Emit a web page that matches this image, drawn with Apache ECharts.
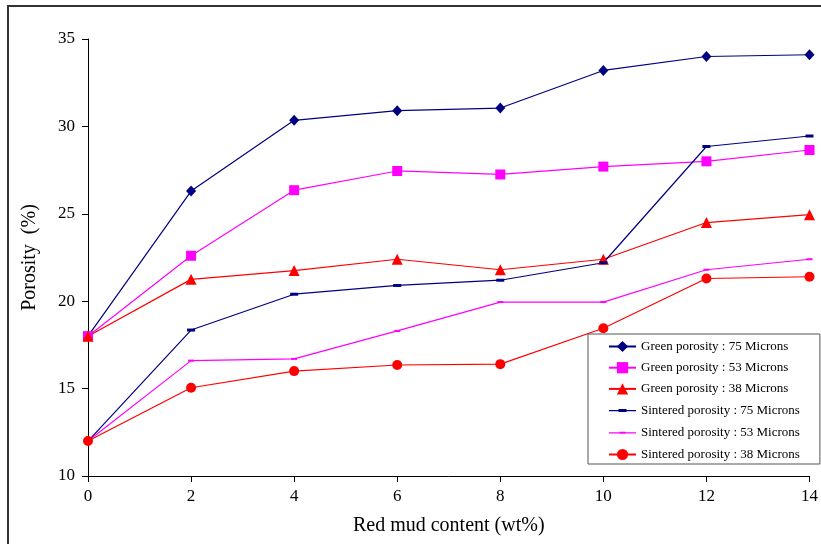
<!DOCTYPE html>
<html><head><meta charset="utf-8">
<script src="https://cdn.jsdelivr.net/npm/echarts@6/dist/echarts.min.js"></script>
<style>html,body{margin:0;padding:0;background:#fff}#c{width:821px;height:544px}</style>
</head><body><div id="c"></div>
<script>
var xValues = [0, 2, 4, 6, 8, 10, 12, 14];
var green75 = [18.0, 26.3, 30.35, 30.9, 31.05, 33.2, 34.0, 34.1];
var green53 = [18.0, 22.6, 26.35, 27.45, 27.25, 27.7, 28.0, 28.65];
var green38 = [18.0, 21.25, 21.75, 22.4, 21.8, 22.4, 24.5, 24.95];
var sint75 = [12.0, 18.35, 20.4, 20.9, 21.2, 22.2, 28.85, 29.45];
var sint53 = [12.0, 16.6, 16.7, 18.3, 19.95, 19.95, 21.8, 22.4];
var sint38 = [12.0, 15.05, 16.0, 16.35, 16.4, 18.45, 21.3, 21.4];
var names = ['Green porosity : 75 Microns','Green porosity : 53 Microns','Green porosity : 38 Microns',
  'Sintered porosity : 75 Microns','Sintered porosity : 53 Microns','Sintered porosity : 38 Microns'];
var font = "'Liberation Serif','Times New Roman',serif";
function pts(arr){ return xValues.map(function(x,i){return [x, arr[i]];}); }
function mk(name, data, color, symbol, size){
  return {name:name, type:'line', data:pts(data), symbol:symbol, symbolSize:size,
    showSymbol:true, lineStyle:{color:color, width:1.2}, itemStyle:{color:color}, animation:false};
}
// legend icons: line + small dash (box 27 x 14)
var dash75 = 'path://M0,0 M27,14 M0,6.4 L27,6.4 L27,7.6 L0,7.6 Z M9.5,5.5 L17.5,5.5 L17.5,8.5 L9.5,8.5 Z';
var dash53 = 'path://M0,0 M27,14 M0,6.4 L27,6.4 L27,7.6 L0,7.6 Z M10.5,6 L16.5,6 L16.5,8 L10.5,8 Z';
var chart = echarts.init(document.getElementById('c'));
chart.setOption({
  backgroundColor:'#fff',
  animation:false,
  grid:{left:88, right:8, top:39, bottom:68},
  xAxis:{type:'value', min:0, max:14, interval:2,
    name:'Red mud content (wt%)', nameLocation:'middle', nameGap:40,
    nameTextStyle:{fontFamily:font, fontSize:20, color:'#000'},
    axisLine:{lineStyle:{color:'#000', width:1}}, axisTick:{lineStyle:{color:'#000'}, length:6},
    axisLabel:{fontFamily:font, fontSize:17, color:'#000', margin:12}, splitLine:{show:false}},
  yAxis:{type:'value', min:10, max:35, interval:5,
    name:'Porosity  (%)', nameLocation:'middle', nameGap:48, nameRotate:90,
    nameTextStyle:{fontFamily:font, fontSize:20, color:'#000'},
    axisLine:{show:true, lineStyle:{color:'#000', width:1}}, axisTick:{show:true, lineStyle:{color:'#000'}, length:6},
    axisLabel:{fontFamily:font, fontSize:17, color:'#000', margin:13}, splitLine:{show:false}},
  legend:{orient:'vertical', left:588, top:334,
    backgroundColor:'#fff', borderColor:'#555', borderWidth:1,
    padding:[6,20,3,20], itemGap:8.2, itemWidth:27, itemHeight:14,
    textStyle:{fontFamily:font, fontSize:13, color:'#000'},
    data:[names[0], names[1], names[2], {name:names[3], icon:dash75}, {name:names[4], icon:dash53}, names[5]]},
  series:[
    mk(names[0], green75, '#000080', 'diamond', [10,11]),
    mk(names[1], green53, '#FF00FF', 'rect', 10),
    mk(names[2], green38, '#FF0000', 'triangle', 11),
    mk(names[3], sint75, '#000080', 'rect', [8,3]),
    mk(names[4], sint53, '#FF00FF', 'rect', [6,2]),
    mk(names[5], sint38, '#FF0000', 'circle', 10)
  ],
  graphic:[{type:'rect', shape:{x:8, y:6, width:830, height:560}, style:{fill:'none', stroke:'#333', lineWidth:2}, silent:true}]
});
</script></body></html>
